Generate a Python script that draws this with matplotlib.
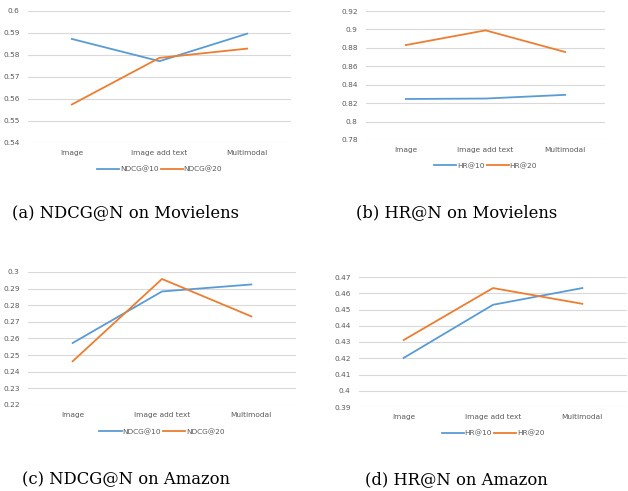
import numpy as np
import matplotlib.pyplot as plt

# ---------------- data ----------------
categories = ["Image", "Image add text", "Multimodal"]

ml_ndcg10 = [0.5873, 0.5772, 0.5897]
ml_ndcg20 = [0.5575, 0.5787, 0.5829]
ml_hr10 = [0.8245, 0.8250, 0.8290]
ml_hr20 = [0.8830, 0.8990, 0.8755]
am_ndcg10 = [0.2573, 0.2883, 0.2925]
am_ndcg20 = [0.2463, 0.2958, 0.2733]
am_hr10 = [0.4202, 0.4529, 0.4632]
am_hr20 = [0.4312, 0.4632, 0.4535]

captions = ["(a) NDCG@N on Movielens", "(b) HR@N on Movielens",
            "(c) NDCG@N on Amazon", "(d) HR@N on Amazon"]

BLUE = "#5B9BD5"
ORANGE = "#ED7D31"
GRID = "#D9D9D9"
TXT = "#595959"

W, H = 628, 491
fig = plt.figure(figsize=(W / 100, H / 100), dpi=100)


def px_axes(x0, y0, x1, y1):
    # pixel box (top-left origin) -> figure fraction
    return fig.add_axes([x0 / W, 1 - y1 / H, (x1 - x0) / W, (y1 - y0) / H])


def panel(box, s10, s20, names, ylo, yhi, step, leg_y):
    ax = px_axes(*box)
    x = np.arange(len(categories))
    ax.plot(x, s10, color=BLUE, lw=1.3, label=names[0])
    ax.plot(x, s20, color=ORANGE, lw=1.3, label=names[1])
    ax.set_xlim(-0.5, len(categories) - 0.5)
    ax.set_ylim(ylo, yhi)
    ticks = np.round(np.arange(ylo, yhi + step / 2, step), 4)
    ax.set_yticks(ticks)
    ax.set_yticklabels([("%.2f" % t).rstrip("0").rstrip(".") for t in ticks])
    ax.set_xticks(x)
    ax.set_xticklabels(categories)
    ax.yaxis.grid(True, color=GRID, lw=0.8)
    ax.set_axisbelow(True)
    for s in ax.spines.values():
        s.set_visible(False)
    ax.tick_params(length=0, labelsize=5.3, colors=TXT, pad=6)
    ax.tick_params(axis="x", pad=5)
    leg = ax.legend(loc="center", bbox_to_anchor=(0.5, leg_y), ncol=2,
                    frameon=False, fontsize=5.3, handlelength=3.0,
                    handletextpad=0.1, columnspacing=0.3)
    for t in leg.get_texts():
        t.set_color(TXT)
    return ax


panel((28, 11, 291, 143), ml_ndcg10, ml_ndcg20, ["NDCG@10", "NDCG@20"],
      0.54, 0.60, 0.01, -0.2)
panel((366, 11, 605, 140), ml_hr10, ml_hr20, ["HR@10", "HR@20"],
      0.78, 0.92, 0.02, -0.2)
panel((28, 272, 296, 405), am_ndcg10, am_ndcg20, ["NDCG@10", "NDCG@20"],
      0.22, 0.30, 0.01, -0.2)
panel((359, 277, 627, 407), am_hr10, am_hr20, ["HR@10", "HR@20"],
      0.39, 0.47, 0.01, -0.2)

cap_pos = [(126, 213), (457, 213), (126, 480), (456, 480)]
for (cx, cy), c in zip(cap_pos, captions):
    fig.text(cx / W, 1 - cy / H, c, ha="center", va="center",
             fontsize=11.8, family="DejaVu Serif", color="black")

fig.savefig("out.png", dpi=100)
